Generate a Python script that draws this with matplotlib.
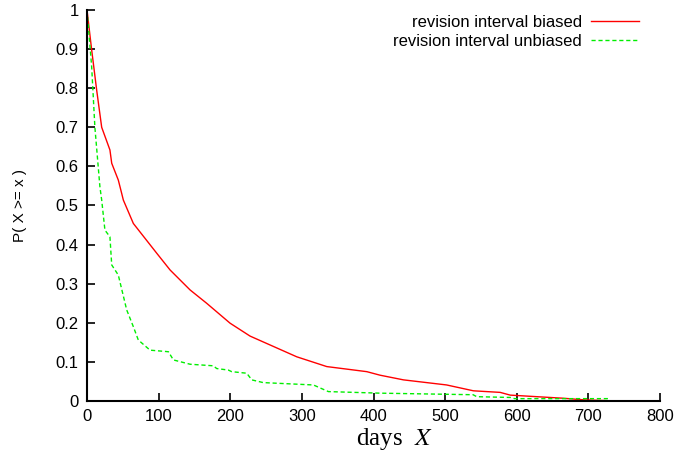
"""
Survival curve P(X >= x) of revision intervals, gnuplot look.
"""

import matplotlib.pyplot as plt

plt.rcParams["font.family"] = ["Liberation Sans", "DejaVu Sans"]
plt.rcParams["mathtext.fontset"] = "stix"

# biased revision interval
biased_days = [0, 6.5, 13.5, 20.5, 32, 34.5, 43.7, 48.4, 50.7, 64.7, 97.3, 116,
               143.9, 167, 199.7, 227.6, 292.8, 334.7, 390.6, 409, 441.8, 502,
               539.5, 576.8, 590.8, 665, 693, 725]
biased_p = [1.0, 0.898, 0.795, 0.70, 0.642, 0.608, 0.565, 0.531, 0.514, 0.454,
            0.378, 0.335, 0.284, 0.25, 0.199, 0.166, 0.113, 0.088, 0.075, 0.066,
            0.054, 0.041, 0.026, 0.022, 0.015, 0.007, 0.003, 0.001]

# unbiased revision interval
unbiased_days = [0, 6.5, 11, 18, 20.5, 25, 32, 34.5, 43.7, 55.4, 64.7, 71.6, 88,
                 113.6, 120.6, 143.9, 176.4, 181, 197.4, 202, 223, 230, 246,
                 316, 337, 409, 539, 544, 591, 597, 730]
unbiased_p = [1.0, 0.855, 0.70, 0.548, 0.514, 0.437, 0.42, 0.348, 0.322, 0.233,
              0.19, 0.156, 0.13, 0.126, 0.105, 0.094, 0.09, 0.083, 0.079, 0.075,
              0.071, 0.054, 0.047, 0.041, 0.024, 0.02, 0.016, 0.011, 0.009,
              0.006, 0.006]

x_ticks = [0, 100, 200, 300, 400, 500, 600, 700, 800]
y_ticks = [0, 0.1, 0.2, 0.3, 0.4, 0.5, 0.6, 0.7, 0.8, 0.9, 1]
y_labels = ["0", "0.1", "0.2", "0.3", "0.4", "0.5", "0.6", "0.7", "0.8", "0.9", "1"]


def main():
    fig = plt.figure(figsize=(6.75, 4.51), dpi=100)
    ax = fig.add_axes([0.1289, 0.1109, 0.849, 0.8669])

    ax.plot(biased_days, biased_p, color="#ff0000", lw=1.0,
            label="revision interval biased")
    ax.plot(unbiased_days, unbiased_p, color="#00ee00", lw=1.0,
            dashes=(3, 2), label="revision interval unbiased")

    ax.set_xlim(0, 800)
    ax.set_ylim(0, 1)
    ax.set_xticks(x_ticks)
    ax.set_yticks(y_ticks)
    ax.set_yticklabels(y_labels)

    # gnuplot style: only left/bottom border, ticks pointing in
    for side in ("top", "right"):
        ax.spines[side].set_visible(False)
    for side in ("left", "bottom"):
        ax.spines[side].set_linewidth(1.5)
    ax.tick_params(direction="in", length=6, width=1.2, labelsize=12, pad=6)

    ax.set_xlabel(r"days  $X$", fontfamily="Liberation Serif", fontsize=18)
    ax.xaxis.set_label_coords(0.537, -0.063)
    ax.set_ylabel("P( X >= x )", fontsize=11)
    ax.yaxis.set_label_coords(-0.105, 0.5)

    leg = ax.legend(loc="upper right", bbox_to_anchor=(0.99, 1.025),
                    frameon=False, fontsize=12, markerfirst=False,
                    handlelength=2.9, handletextpad=0.55, labelspacing=0.2)
    for txt in leg.get_texts():
        txt.set_ha("right")
    leg._legend_box.align = "right"

    fig.savefig("out.png", dpi=100)


if __name__ == "__main__":
    main()
